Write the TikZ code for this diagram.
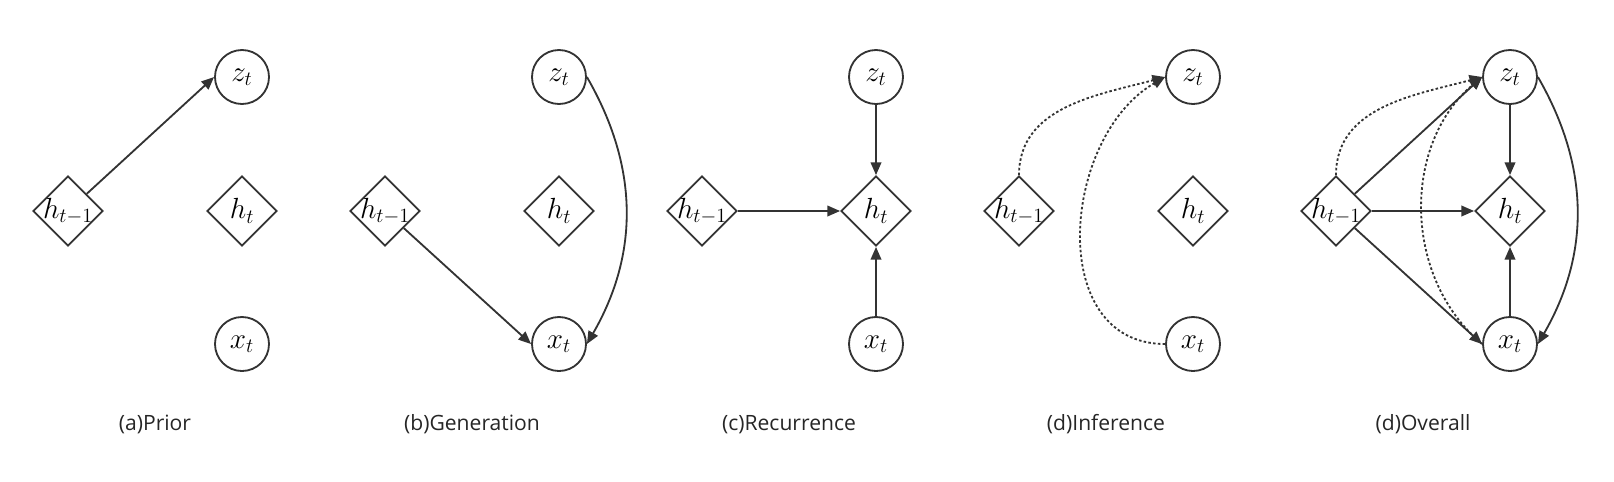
\documentclass[tikz,border=0pt]{standalone}
\usepackage{amsmath}
\usepackage{fontspec}
\usepackage{tikz}
\usetikzlibrary{shapes.geometric,arrows.meta}
\newfontfamily\capfont{Open Sans}

\begin{document}
\begin{tikzpicture}[%
% common options for the latent and observed variables:
var/.style = {circle, draw, minimum size=1.35cm, inner sep=0,
            font=\fontsize{19.5}{22}\selectfont},
% common options for the hidden states:
state/.style = {diamond, draw, minimum size=1.75cm, inner sep=-2pt,
            font=\fontsize{19.5}{22}\selectfont},
% common options for the captions:
caption/.style = {anchor=base, text=black!85, font=\capfont\fontsize{15}{18}\selectfont},
line width=1.3pt, draw=black!80, >={Triangle[length=9pt,width=7.5pt]},
infer/.style = {dash pattern=on 1.8pt off 1.6pt}]
\useasboundingbox (0,0) rectangle (40.35,-12.025);
% (a) prior
\node[state] (P1) at (1.7,-5.275) {$h_{t-1}$};
\node[var] (Z1) at (6.05,-1.925) {$z_t$};
\node[state] (H1) at (6.05,-5.275) {$h_t$};
\node[var] (X1) at (6.05,-8.6) {$x_t$};
\node[caption] (C1) at (3.875,-10.75) {(a)Prior};
\draw[->] (P1) -- (Z1.west);
% (b) generation
\node[state] (P2) at (9.625,-5.275) {$h_{t-1}$};
\node[var] (Z2) at (13.975,-1.925) {$z_t$};
\node[state] (H2) at (13.975,-5.275) {$h_t$};
\node[var] (X2) at (13.975,-8.6) {$x_t$};
\node[caption] (C2) at (11.8,-10.75) {(b)Generation};
\draw[->] (P2) -- (X2.west);
\draw[->] (Z2.east) to[bend left=30] (X2.east);
% (c) recurrence
\node[state] (P3) at (17.55,-5.275) {$h_{t-1}$};
\node[var] (Z3) at (21.9,-1.925) {$z_t$};
\node[state] (H3) at (21.9,-5.275) {$h_t$};
\node[var] (X3) at (21.9,-8.6) {$x_t$};
\node[caption] (C3) at (19.725,-10.75) {(c)Recurrence};
\draw[->] (Z3) -- (H3);
\draw[->] (P3) -- (H3);
\draw[->] (X3) -- (H3);
% (d) inference
\node[state] (P4) at (25.475,-5.275) {$h_{t-1}$};
\node[var] (Z4) at (29.825,-1.925) {$z_t$};
\node[state] (H4) at (29.825,-5.275) {$h_t$};
\node[var] (X4) at (29.825,-8.6) {$x_t$};
\node[caption] (C4) at (27.65,-10.75) {(d)Inference};
\draw[->, infer] (P4.north) to[out=90,in=195] (Z4.west);
\draw[->, infer] (X4.west) to[out=180,in=210,looseness=1.15] (Z4.west);
% (d) overall
\node[state] (P5) at (33.4,-5.275) {$h_{t-1}$};
\node[var] (Z5) at (37.75,-1.925) {$z_t$};
\node[state] (H5) at (37.75,-5.275) {$h_t$};
\node[var] (X5) at (37.75,-8.6) {$x_t$};
\node[caption] (C5) at (35.575,-10.75) {(d)Overall};
\draw[->] (P5) -- (Z5.west);
\draw[->] (P5) -- (H5);
\draw[->] (P5) -- (X5.west);
\draw[->] (Z5) -- (H5);
\draw[->] (X5) -- (H5);
\draw[->] (Z5.east) to[bend left=30] (X5.east);
\draw[->, infer] (P5.north) to[out=90,in=195] (Z5.west);
\draw[->, infer] (X5.west) to[bend left=50] (Z5.west);
\end{tikzpicture}
\end{document}
